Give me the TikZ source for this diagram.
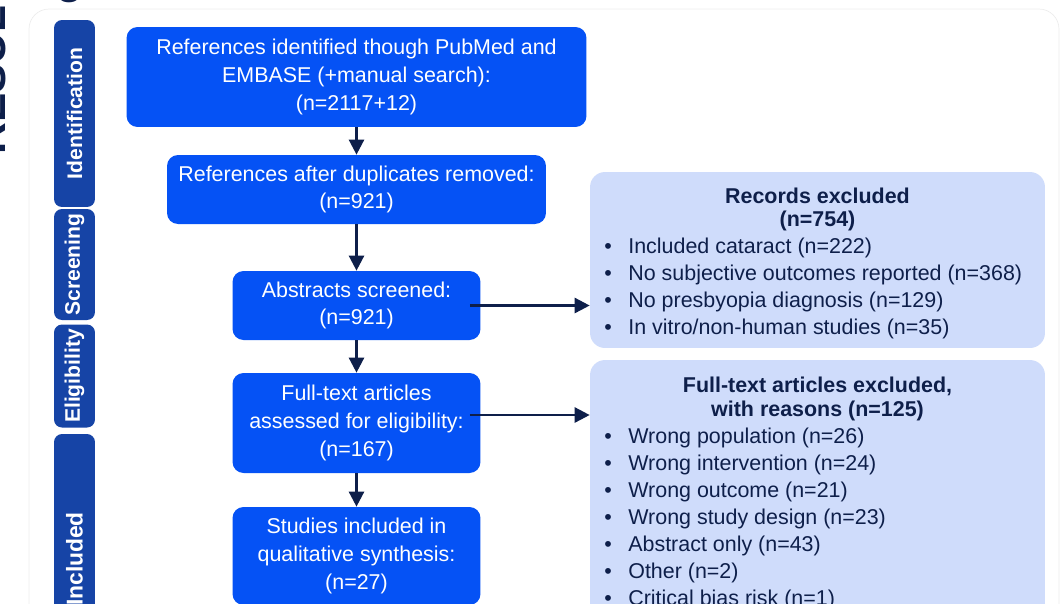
\documentclass[tikz,border=0pt]{standalone}
\usepackage{fontspec}
\setmainfont{Liberation Sans}
\usetikzlibrary{arrows.meta}
\definecolor{boxblue}{RGB}{5,82,245}
\definecolor{tabblue}{RGB}{22,68,166}
\definecolor{lightblue}{RGB}{207,220,251}
\definecolor{navy}{RGB}{14,31,74}
\newcommand{\bul}{\makebox[0.48cm][l]{\textbullet}}

\begin{document}
\begin{tikzpicture}[x=0.02cm,y=-0.02cm]
	\tikzstyle{every node}+=[inner sep=0pt]
	\tikzstyle{flow}=[fill=boxblue, rounded corners=0.22cm, text=white, align=center, font=\fontsize{12.2}{15.8}\selectfont]
	\tikzstyle{excl}=[fill=lightblue, rounded corners=0.3cm, minimum width=9.1cm]
	\tikzstyle{tab}=[fill=tabblue, rounded corners=0.16cm, rotate=90, minimum height=0.82cm, text=white, font=\fontsize{12}{14}\selectfont\bfseries]
	\tikzstyle{head}=[text=navy, align=center, font=\fontsize{12.2}{13.5}\selectfont\bfseries]
	\tikzstyle{items}=[text=navy, align=left, anchor=west, font=\fontsize{12.2}{15.4}\selectfont]
	\tikzstyle{arr}=[navy, line width=0.05cm, -{Triangle[length=0.3cm,width=0.3cm]}]
	\useasboundingbox (0,0) rectangle (1061,603);
	\clip (0,0) rectangle (1061,603);
	\draw [black!7, fill=white, rounded corners=0.4cm] (29,9) rectangle (1059,680);
	\node [rotate=90, anchor=base west, text=navy, font=\fontsize{25}{30}\selectfont\bfseries] (side) at (6,155) {RESUL};
	\node [anchor=base west, text=navy, font=\fontsize{25}{30}\selectfont\bfseries] (top) at (56,-7) {g};
	\node [tab, minimum width=3.74cm] (tid) at (74.5,113.5) {Identification};
	\node [tab, minimum width=2.22cm] (tscr) at (74.5,264.5) {Screening};
	\node [tab, minimum width=2.06cm] (telig) at (74.5,376) {Eligibility};
	\node [tab, minimum width=5.0cm, font=\fontsize{13}{15}\selectfont\bfseries] (tincl) at (74.5,559) {Included};
	\node [flow, minimum width=9.2cm, minimum height=2.0cm] (ident) at (356.5,77) {References identified though PubMed and\\EMBASE (+manual search):\\(n=2117+12)};
	\node [flow, minimum width=7.58cm, minimum height=1.38cm] (dup) at (356.5,189.5) {References after duplicates removed:\\(n=921)};
	\node [flow, minimum width=4.96cm, minimum height=1.38cm] (abst) at (356.5,305.5) {Abstracts screened:\\(n=921)};
	\node [flow, minimum width=4.96cm, minimum height=2.0cm] (full) at (356.5,423) {Full-text articles\\assessed for eligibility:\\(n=167)};
	\node [flow, minimum width=4.96cm, minimum height=1.96cm] (incl) at (356.5,556) {Studies included in\\qualitative synthesis:\\(n=27)};
	\node [excl, minimum height=3.52cm] (recex) at (817.5,260) {};
	\node [head] (recexh) at (817.5,209.5) {Records excluded\\(n=754)};
	\node [items] (recexl) at (604,288.5) {\bul Included cataract (n=222)\\\bul No subjective outcomes reported (n=368)\\\bul No presbyopia diagnosis (n=129)\\\bul In vitro/non-human studies (n=35)};
	\node [excl, minimum height=5.6cm] (fullex) at (817.5,500) {};
	\node [head] (fullexh) at (817.5,399) {Full-text articles excluded,\\with reasons (n=125)};
	\node [items] (fullexl) at (604,519) {\bul Wrong population (n=26)\\\bul Wrong intervention (n=24)\\\bul Wrong outcome (n=21)\\\bul Wrong study design (n=23)\\\bul Abstract only (n=43)\\\bul Other (n=2)\\\bul Critical bias risk (n=1)};
	\draw [arr] (ident.south) -- (dup.north);
	\draw [arr] (dup.south) -- (abst.north);
	\draw [arr] (abst.south) -- (full.north);
	\draw [arr] (full.south) -- (incl.north);
	\coordinate (a1) at ([xshift=-0.22cm]abst.east);
	\coordinate (a2) at ([xshift=-0.22cm,yshift=0.16cm]full.east);
	\draw [arr] (a1) -- (a1 -| recex.west);
	\draw [arr] (a2) -- (a2 -| fullex.west);
\end{tikzpicture}
\end{document}
